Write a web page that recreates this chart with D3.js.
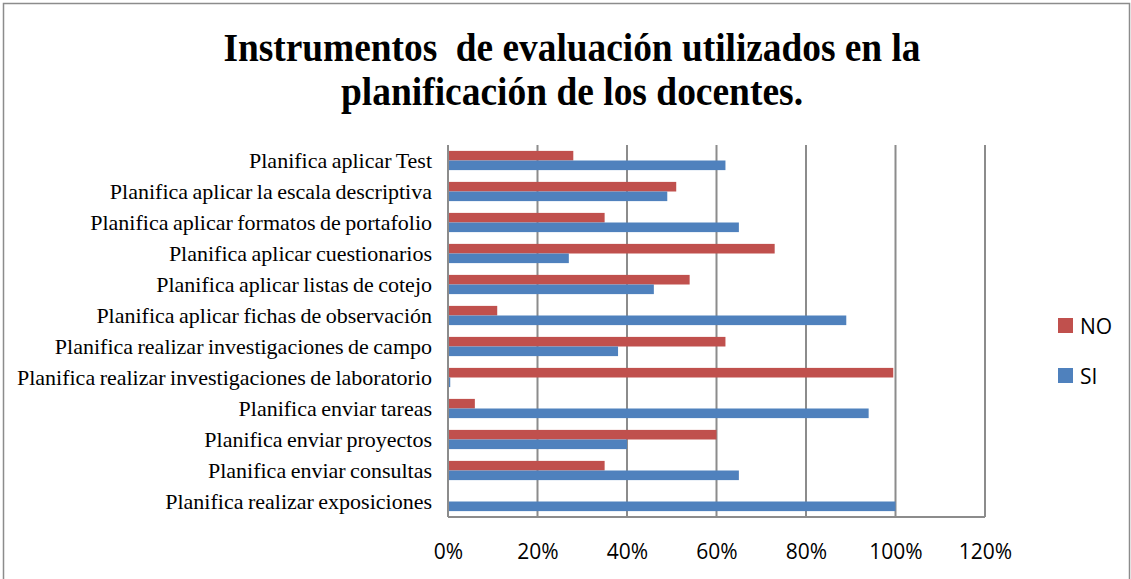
<!DOCTYPE html>
<html>
<head>
<meta charset="utf-8">
<script src="https://cdn.jsdelivr.net/npm/d3@7"></script>
<style>
  body { margin: 0; background: #fff; }
</style>
</head>
<body>
<div id="chart"></div>
<script>
// categories top to bottom, as shown
const categories = [
  "Planifica aplicar Test",
  "Planifica aplicar la escala descriptiva",
  "Planifica aplicar formatos de portafolio",
  "Planifica aplicar cuestionarios",
  "Planifica aplicar listas de cotejo",
  "Planifica aplicar fichas de observación",
  "Planifica realizar investigaciones de campo",
  "Planifica realizar investigaciones de laboratorio",
  "Planifica enviar tareas",
  "Planifica enviar proyectos",
  "Planifica enviar consultas",
  "Planifica realizar exposiciones"
];
const noValues = [28, 51, 35, 73, 54, 11, 62, 99.5, 6, 60, 35, 0];
const siValues = [62, 49, 65, 27, 46, 89, 38, 0.5, 94, 40, 65, 100];
const seriesNames = ["NO", "SI"];
const seriesColors = ["#C0504D", "#4F81BD"];
const tickValues = [0, 20, 40, 60, 80, 100, 120];
const titleLines = ["Instrumentos  de evaluación utilizados en la", "planificación de los docentes."];

const W = 1131, H = 579;
const margin = { top: 145, left: 448, right: 146, bottom: 62 };

const svg = d3.select("#chart").append("svg")
  .attr("width", W)
  .attr("height", H);

// chart border
svg.append("rect")
  .attr("x", 3.5).attr("y", 3.5)
  .attr("width", W - 5).attr("height", H + 10)
  .attr("fill", "none")
  .attr("stroke", "#8c8c8c")
  .attr("stroke-width", 1.5);

// title, condensed bold serif
const titleWidths = [697, 462];
titleLines.forEach(function(line, i) {
  svg.append("text")
    .attr("x", 572)
    .attr("y", 61 + i * 44)
    .attr("text-anchor", "middle")
    .attr("font-family", "Liberation Serif, Times New Roman, serif")
    .attr("font-weight", "bold")
    .attr("font-size", 40)
    .style("white-space", "pre")
    .attr("textLength", titleWidths[i])
    .attr("lengthAdjust", "spacingAndGlyphs")
    .text(line);
});

const x = d3.scaleLinear()
  .domain([0, 120])
  .range([margin.left, W - margin.right]);

const y = d3.scaleBand()
  .domain(categories)
  .range([margin.top, H - margin.bottom])
  .paddingInner(0.38)
  .paddingOuter(0.19);

const ySub = d3.scaleBand()
  .domain(seriesNames)
  .range([0, y.bandwidth()]);

const plot = svg.append("g");

// vertical gridlines
plot.selectAll("line.grid")
  .data(tickValues)
  .enter()
  .append("line")
  .attr("class", "grid")
  .attr("x1", d => x(d)).attr("x2", d => x(d))
  .attr("y1", margin.top).attr("y2", H - margin.bottom)
  .attr("stroke", "#8c8c8c")
  .attr("stroke-width", 2);

// bars
const rows = categories.map((c, i) => ({ cat: c, vals: [noValues[i], siValues[i]] }));
const groups = plot.selectAll("g.row")
  .data(rows)
  .enter()
  .append("g")
  .attr("transform", d => "translate(0," + y(d.cat) + ")");

groups.selectAll("rect")
  .data(d => d.vals.map((v, j) => ({ name: seriesNames[j], v: v, color: seriesColors[j] })))
  .enter()
  .append("rect")
  .attr("x", x(0))
  .attr("y", d => ySub(d.name))
  .attr("width", d => x(d.v) - x(0))
  .attr("height", ySub.bandwidth())
  .attr("fill", d => d.color);

// left and bottom axis lines
plot.append("line")
  .attr("x1", x(0)).attr("x2", x(0))
  .attr("y1", margin.top).attr("y2", H - margin.bottom)
  .attr("stroke", "#8c8c8c").attr("stroke-width", 2);
plot.append("line")
  .attr("x1", x(0)).attr("x2", x(120))
  .attr("y1", H - margin.bottom).attr("y2", H - margin.bottom)
  .attr("stroke", "#8c8c8c").attr("stroke-width", 2);

// x axis labels
const xAxis = d3.axisBottom(x)
  .tickValues(tickValues)
  .tickFormat(d => d + "%")
  .tickSize(0)
  .tickPadding(27);
const gx = svg.append("g")
  .attr("transform", "translate(0," + (H - margin.bottom) + ")")
  .call(xAxis);
gx.select(".domain").remove();
gx.selectAll("text")
  .attr("font-family", "Open Sans, Liberation Sans, sans-serif")
  .attr("font-size", 21)
  .attr("fill", "#000");

// y axis labels
const yAxis = d3.axisLeft(y).tickSize(0).tickPadding(16);
const gy = svg.append("g")
  .attr("transform", "translate(" + x(0) + ",0)")
  .call(yAxis);
gy.select(".domain").remove();
gy.selectAll("text")
  .attr("font-family", "Liberation Serif, Times New Roman, serif")
  .attr("font-size", 22)
  .attr("word-spacing", -1)
  .attr("fill", "#000");

// legend
const legend = svg.append("g").attr("transform", "translate(1058,318)");
seriesNames.forEach(function(name, i) {
  const g = legend.append("g").attr("transform", "translate(0," + i * 50 + ")");
  g.append("rect")
    .attr("width", 15).attr("height", 15)
    .attr("fill", seriesColors[i]);
  g.append("text")
    .attr("x", 22).attr("y", 16)
    .attr("font-family", "Open Sans, Liberation Sans, sans-serif")
    .attr("font-size", 21)
    .text(name);
});
</script>
</body>
</html>
